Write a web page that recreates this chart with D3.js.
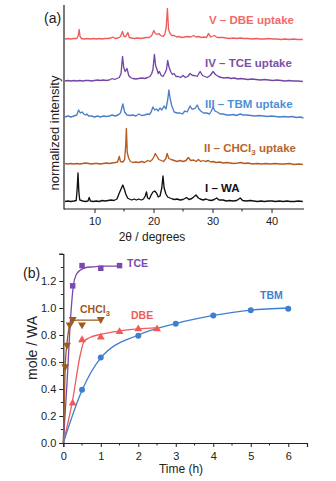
<!DOCTYPE html>
<html>
<head>
<meta charset="utf-8">
<script src="https://cdn.jsdelivr.net/npm/d3@7"></script>
<style>
  body { margin: 0; background: #fff; }
  svg { display: block; font-family: "Liberation Sans", Arial, sans-serif; }
</style>
</head>
<body>
<svg id="chart" width="336" height="481"></svg>
<script>
// ---- panel (a) : XRD patterns, [2theta, intensity above own baseline] ----
const waPattern = [[5,0.5],[5.5,1],[6,0.5],[6.5,1],[6.9,1.5],[7.05,12],[7.2,29],[7.35,10],[7.5,2],[8,1],[8.5,0.5],[8.9,1],[9.1,4.5],[9.3,1],[9.8,0.5],[10.3,1],[10.8,0.5],[11.3,1.5],[11.8,1],[12.3,1.5],[12.8,2],[13.3,1.5],[13.8,3],[14.2,9],[14.5,13],[14.8,17],[15.1,12],[15.3,8],[15.6,4],[15.9,3],[16.3,2],[16.7,3],[17.1,2],[17.5,3],[17.9,2],[18.3,3],[18.6,6],[18.8,10],[19,4],[19.3,3],[19.6,7],[19.9,10],[20.2,11],[20.5,9],[20.8,5],[21.1,6],[21.4,14],[21.6,26],[21.8,14],[22.1,8],[22.4,5],[22.8,4],[23.2,3],[23.6,2.5],[24,3],[24.5,2],[25,2.5],[25.6,4.5],[26,2.5],[26.5,3.5],[27.2,7],[27.6,4],[27.9,3],[28.4,2],[28.9,3],[29.3,2],[29.8,1.5],[30.3,2.5],[30.7,4],[31.1,2],[31.8,2],[32.3,1],[32.9,1.5],[33.5,1],[34.1,1.5],[34.7,4],[35.1,1.5],[35.7,1],[36.4,1.5],[37,1],[37.6,0.5],[38.2,1],[38.8,0.5],[39.5,1],[40.1,1],[40.7,0.5],[41.3,1],[42,0.5],[42.6,1],[43.2,0.5],[43.9,0.5],[44.5,1],[45.3,0.5]]
const chcl3Pattern = [[5,1],[5.5,0.5],[6,1],[6.5,0.5],[7,1],[7.5,0.5],[8,1],[8.5,1.5],[9,1],[9.5,0.5],[10,1],[10.5,1],[11,0.5],[11.5,1],[12,1.5],[12.5,1],[13,1.5],[13.5,2],[13.9,2.5],[14.2,8],[14.4,3],[14.8,2.5],[15.1,5],[15.3,20],[15.4,36],[15.55,12],[15.8,6],[16.1,3],[16.5,2],[17,2.5],[17.5,2],[18,3],[18.5,2],[19,4],[19.4,3],[19.8,5],[20.1,8],[20.3,11],[20.6,8],[20.9,5],[21.3,4],[21.7,3],[22.1,6],[22.3,11],[22.6,6],[23,5],[23.5,4],[24,3],[24.5,4],[25,3],[25.5,4],[25.9,7],[26.3,4],[26.8,4.5],[27.2,3],[27.6,5],[28,3],[28.4,4],[28.8,3],[29.3,4],[29.7,2.5],[30.1,3],[30.6,2],[31.2,2.5],[31.8,1.5],[32.4,2],[33,1.5],[33.6,1],[34.3,1.5],[34.8,2],[35.4,1],[36,1.5],[36.8,0.5],[37.5,1],[38.3,0.5],[39,1],[39.8,0.5],[40.6,1],[41.4,0.5],[42.2,0.5],[43,1],[43.8,0],[44.6,0.5],[45.3,0]]
const tbmPattern = [[5,1],[5.5,2],[6,1],[6.5,2],[7,3],[7.3,8],[7.6,5],[7.9,6],[8.2,4],[8.5,3],[8.7,4],[9,2],[9.5,2],[10,1],[10.5,2],[11,1],[11.5,2],[12,1.5],[12.5,2],[13,3],[13.5,2],[14,3],[14.4,5],[14.8,14],[15.1,6],[15.5,3],[16,2.5],[16.5,3],[17,2],[17.5,4],[18,2.5],[18.5,3],[19,4],[19.3,3.5],[19.6,6],[19.9,11],[20.2,8],[20.5,9],[20.8,7],[21.1,10],[21.4,8],[21.8,12],[22.1,9],[22.4,18],[22.6,28],[22.8,20],[23.1,12],[23.5,6],[24,5],[24.5,5],[24.9,4],[25.3,7],[25.7,6],[26.2,12],[26.5,9],[26.8,9],[27.1,10],[27.4,13],[27.7,9],[28,7],[28.5,5],[29,5],[29.5,4],[29.8,7],[30.1,11],[30.4,7],[30.8,6],[31.3,4],[31.8,4],[32.4,3],[33,3],[33.5,3.5],[34,2.5],[34.7,4],[35.2,3],[35.8,3],[36.5,2.5],[37.2,2],[37.9,2.5],[38.6,2],[39.3,1.5],[40,2],[40.7,1.5],[41.4,1],[42.1,1.5],[42.8,1],[43.5,1.5],[44.2,0.5],[44.9,1],[45.4,0]]
const tcePattern = [[5,0.5],[5.5,1],[6,0.5],[6.5,1],[7,0.5],[7.5,1],[8,0.5],[8.5,1],[9,1],[9.5,0.5],[10,1],[10.5,1.5],[11,1],[11.5,1.5],[12,1],[12.5,1.5],[13,3],[13.4,2],[13.8,3],[14.2,4],[14.5,8],[14.75,25],[14.95,14],[15.2,10],[15.5,13],[15.8,6],[16.1,4],[16.5,3],[17,2.5],[17.5,3],[18,3.5],[18.5,3],[19,4],[19.4,5],[19.7,8],[19.9,12],[20.15,27],[20.35,16],[20.6,12],[20.8,8],[21,10],[21.3,6],[21.6,5],[21.9,8],[22.2,12],[22.4,21],[22.6,15],[22.9,10],[23.2,7],[23.5,8],[23.8,5],[24.2,5],[24.6,4],[25,6],[25.4,4],[25.8,5],[26.2,8],[26.6,6],[27,6],[27.4,5],[27.9,10],[28.3,6],[28.7,5],[29.1,4],[29.6,6],[30.1,10],[30.5,7],[31,5],[31.5,4],[32,3.5],[32.6,4],[33.1,3],[33.7,3.5],[34.3,2.5],[34.8,3],[35.4,2.5],[36,2],[36.7,2.5],[37.4,2],[38.1,1.5],[38.8,2],[39.5,1.5],[40.2,1],[40.9,1.5],[41.6,1],[42.3,0.5],[43,1],[43.7,0.5],[44.4,0.5],[45.3,0]]
const dbePattern = [[5,0.5],[5.5,1],[6,0.5],[6.5,1],[7,1],[7.25,4],[7.4,10],[7.55,3],[7.8,1],[8.3,0.5],[8.8,1],[9.3,0.5],[9.8,1],[10.3,0.5],[10.8,1],[11.3,0.5],[11.8,1],[12.3,1],[12.8,1.5],[13.1,2.5],[13.5,1],[14,1.5],[14.4,3],[14.75,8],[15,3],[15.3,3],[15.65,7],[15.9,2],[16.3,1.5],[16.8,1],[17.3,1.5],[17.8,1],[18.3,1.5],[18.8,2],[19.3,2],[19.7,4],[20.05,9],[20.3,6],[20.6,5],[20.9,6],[21.2,4],[21.6,3],[21.9,5],[22.15,12],[22.35,31],[22.55,10],[22.8,6],[23.1,4],[23.5,4],[23.9,2.5],[24.3,3],[24.8,2],[25.3,2.5],[25.8,3],[26.3,2.5],[26.8,4],[27.2,2.5],[27.6,3],[28.1,2],[28.6,2.5],[29,2],[29.3,6],[29.7,2.5],[30.3,4],[30.8,2],[31.3,2],[31.8,2],[32.3,1.5],[32.9,1],[33.5,1.5],[34.1,1],[34.7,1.5],[35.3,1],[36,1],[36.7,0.5],[37.4,1],[38.1,0.5],[38.8,0.5],[39.5,1],[40.2,0.5],[40.9,0.5],[41.6,0],[42.3,0.5],[43,0],[43.7,0.5],[44.4,0],[45.3,0]]

const patterns = [waPattern, chcl3Pattern, tbmPattern, tcePattern, dbePattern]
const patternNames = ['I – WA', 'II – CHCl|3| uptake', 'III – TBM uptake', 'IV – TCE uptake', 'V – DBE uptake']
const stackOffset = [7, 44.5, 91, 127.5, 169.5]
const patternColors = ['#111111', '#b55a1f', '#4a80c8', '#7347a6', '#f25b5b']
const patternLabelColors = ['#111111', '#b8652c', '#4f8fd6', '#7b50a8', '#f26a6a']
const xTicksA = [10, 20, 30, 40]

// ---- panel (b) : uptake kinetics ----
const tceTime = [0.25, 0.5, 1, 1.5]
const tceMole = [1.17, 1.32, 1.30, 1.32]
const chcl3Time = [0.05, 0.1, 0.17, 0.25, 0.5, 1]
const chcl3Mole = [0.56, 0.72, 0.87, 0.91, 0.87, 0.91]
const dbeTime = [0.25, 0.5, 1, 1.5, 2, 2.5]
const dbeMole = [0.30, 0.77, 0.79, 0.83, 0.85, 0.85]
const tbmTime = [0.5, 1, 2, 3, 4, 5, 6]
const tbmMole = [0.40, 0.64, 0.80, 0.89, 0.95, 0.99, 1.00]

// fitted curves as drawn in the figure
const tceFitTime = [0, 0.1, 0.2, 0.27, 0.35, 0.45, 0.6, 0.8, 1, 1.5]
const tceFitMole = [0, 0.45, 0.95, 1.17, 1.25, 1.28, 1.30, 1.305, 1.31, 1.31]
const chcl3FitTime = [0, 0.05, 0.1, 0.17, 0.25, 0.35, 1]
const chcl3FitMole = [0, 0.56, 0.74, 0.87, 0.905, 0.91, 0.91]
const dbeFitTime = [0, 0.25, 0.45, 0.55, 0.7, 1, 1.5, 2, 2.5]
const dbeFitMole = [0, 0.32, 0.65, 0.75, 0.78, 0.805, 0.83, 0.845, 0.855]
const tbmFitTime = [0, 0.5, 1, 2, 3, 4, 5, 6]
const tbmFitMole = [0, 0.39, 0.63, 0.80, 0.885, 0.945, 0.985, 1.0]

const kinetics = [
    { name: 'TCE', t: tceTime, v: tceMole, ft: tceFitTime, fv: tceFitMole, color: '#7a48b0', shape: d3.symbolSquare },
    { name: 'CHCl3', t: chcl3Time, v: chcl3Mole, ft: chcl3FitTime, fv: chcl3FitMole, color: '#9c5a1c', shape: 'down' },
    { name: 'DBE', t: dbeTime, v: dbeMole, ft: dbeFitTime, fv: dbeFitMole, color: '#f25a5a', shape: d3.symbolTriangle },
    { name: 'TBM', t: tbmTime, v: tbmMole, ft: tbmFitTime, fv: tbmFitMole, color: '#3f7fd0', shape: d3.symbolCircle }
]

const svg = d3.select('#chart')

// ================= panel (a) =================
const xA = d3.scaleLinear().domain([5, 45.5]).range([65, 304])
const yA = d3.scaleLinear().domain([0, 205]).range([209, 4])

patterns.forEach((p, i) => {
    const lineA = d3.line()
        .x(d => xA(d[0]))
        .y(d => yA(d[1] + stackOffset[i]))
    svg.append('path')
        .attr('d', lineA(p))
        .attr('fill', 'none')
        .attr('stroke', patternColors[i])
        .attr('stroke-width', 1.35)
        .attr('stroke-linejoin', 'round')
})

// axes (a)
const axA = svg.append('g').attr('transform', 'translate(0,209)')
    .call(d3.axisBottom(xA).tickValues(xTicksA).tickSize(4).tickFormat(d3.format('d')))
axA.select('.domain').attr('d', 'M64,0H304').attr('stroke', '#222').attr('stroke-width', 1.2)
axA.selectAll('.tick text').attr('font-size', 11).attr('fill', '#222').attr('dy', '0.85em')
axA.selectAll('.tick line').attr('stroke', '#222')
axA.selectAll('.minor').data([15, 25, 35]).enter().append('line')
    .attr('x1', d => xA(d)).attr('x2', d => xA(d)).attr('y1', 0).attr('y2', 2.5)
    .attr('stroke', '#222')
svg.append('line').attr('x1', 64).attr('x2', 64).attr('y1', 5).attr('y2', 209.5)
    .attr('stroke', '#222').attr('stroke-width', 1.2)

svg.append('text').attr('x', 152).attr('y', 241).attr('text-anchor', 'middle')
    .attr('font-size', 12).attr('fill', '#222').text('2θ / degrees')
svg.append('text').attr('transform', 'translate(59,133) rotate(-90)')
    .attr('text-anchor', 'middle').attr('font-size', 13).attr('fill', '#222')
    .text('normalized intensity')
svg.append('text').attr('x', 44).attr('y', 23).attr('font-size', 14).attr('fill', '#222').text('(a)')

// pattern labels
const labelPos = [[205, 192], [204, 152], [205, 108], [205, 67], [209, 24]]
patternNames.forEach((name, i) => {
    const t = svg.append('text')
        .attr('x', labelPos[i][0]).attr('y', labelPos[i][1])
        .attr('font-size', 11.5).attr('font-weight', 'bold')
        .attr('fill', patternLabelColors[i])
    const parts = name.split('|')
    t.append('tspan').text(parts[0])
    if (parts.length > 1) {
        t.append('tspan').attr('font-size', 8).attr('dy', 3).text(parts[1])
        t.append('tspan').attr('dy', -3).text(parts[2])
    }
})

// ================= panel (b) =================
const xB = d3.scaleLinear().domain([0, 6.5]).range([63.3, 307])
const yB = d3.scaleLinear().domain([0, 1.4]).range([443, 254])

const axBx = svg.append('g').attr('transform', 'translate(0,443)')
    .call(d3.axisBottom(xB).tickValues(d3.range(0, 7)).tickSize(4).tickFormat(d3.format('d')))
axBx.selectAll('.tick text').attr('font-size', 11).attr('fill', '#222').attr('dy', '0.9em')
axBx.selectAll('line,path').attr('stroke', '#222')
axBx.select('.domain').attr('stroke-width', 1.2)
axBx.selectAll('.minor').data(d3.range(0.5, 6.5, 1)).enter().append('line')
    .attr('x1', d => xB(d)).attr('x2', d => xB(d)).attr('y1', 0).attr('y2', 2.5).attr('stroke', '#222')

const axBy = svg.append('g').attr('transform', 'translate(63.3,0)')
    .call(d3.axisLeft(yB).tickValues([0, 0.2, 0.4, 0.6, 0.8, 1.0, 1.2]).tickSize(4).tickFormat(d3.format('.1f')))
axBy.selectAll('.tick text').attr('font-size', 11).attr('fill', '#222')
axBy.selectAll('line,path').attr('stroke', '#222')
axBy.select('.domain').attr('stroke-width', 1.2)
axBy.selectAll('.minor').data([0.1, 0.3, 0.5, 0.7, 0.9, 1.1, 1.3, 1.4]).enter().append('line')
    .attr('x1', d => d === 1.4 ? -4 : -2.5).attr('x2', 0)
    .attr('y1', d => yB(d)).attr('y2', d => yB(d)).attr('stroke', '#222')

svg.append('text').attr('x', 181).attr('y', 473).attr('text-anchor', 'middle')
    .attr('font-size', 12).attr('fill', '#222').text('Time (h)')
svg.append('text').attr('transform', 'translate(37,348) rotate(-90)')
    .attr('text-anchor', 'middle').attr('font-size', 14).attr('fill', '#222')
    .text('mole / WA')
svg.append('text').attr('x', 23).attr('y', 278).attr('font-size', 14).attr('fill', '#222').text('(b)')

const fitLine = d3.line().x(d => xB(d[0])).y(d => yB(d[1])).curve(d3.curveMonotoneX)

kinetics.forEach(s => {
    svg.append('path')
        .attr('d', fitLine(s.ft.map((t, i) => [t, s.fv[i]])))
        .attr('fill', 'none').attr('stroke', s.color).attr('stroke-width', 1.3)
})
kinetics.forEach(s => {
    const g = svg.append('g').attr('fill', s.color)
    s.t.forEach((t, i) => {
        let shape = s.shape, rot = 0
        if (shape === 'down') { shape = d3.symbolTriangle; rot = 180 }
        const size = shape === d3.symbolCircle ? 28 : (shape === d3.symbolSquare ? 30 : 27)
        g.append('path')
            .attr('d', d3.symbol().type(shape).size(size)())
            .attr('transform', `translate(${xB(t)},${yB(s.v[i]) + (rot ? -0.8 : 0.8)}) rotate(${rot})`)
    })
})

// series labels
const bLabels = [
    { text: 'TCE', x: 127, y: 267, color: '#7b4ab0' },
    { text: 'CHCl|3|', x: 80, y: 313, color: '#9c5a1c' },
    { text: 'DBE', x: 131, y: 319, color: '#f25a5a' },
    { text: 'TBM', x: 260, y: 299, color: '#3f7fd0' }
]
bLabels.forEach(l => {
    const t = svg.append('text').attr('x', l.x).attr('y', l.y)
        .attr('font-size', 10.5).attr('font-weight', 'bold').attr('fill', l.color)
    const parts = l.text.split('|')
    t.append('tspan').text(parts[0])
    if (parts.length > 1) t.append('tspan').attr('font-size', 7.5).attr('dy', 3).text(parts[1])
})
</script>
</body>
</html>
